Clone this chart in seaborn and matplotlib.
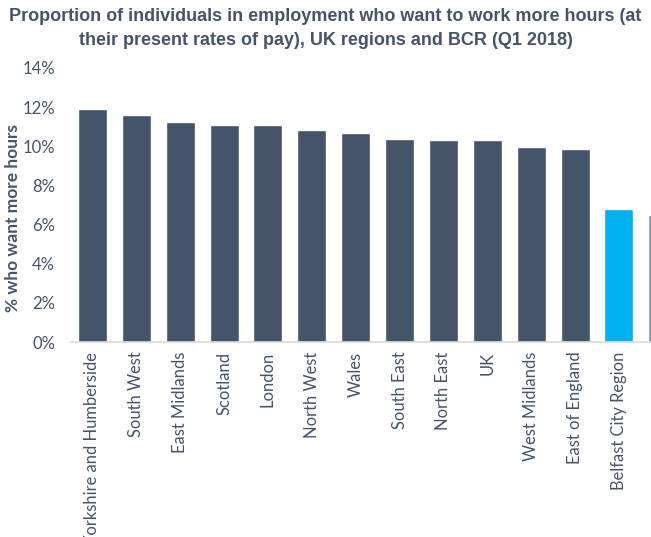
import matplotlib
matplotlib.use("Agg")
import matplotlib.pyplot as plt
import seaborn as sns
from matplotlib.ticker import FuncFormatter

regions = ["Yorkshire and Humberside", "South West", "East Midlands", "Scotland",
           "London", "North West", "Wales", "South East", "North East", "UK",
           "West Midlands", "East of England", "Belfast City Region", "Northern Ireland"]
share_pct = [11.9, 11.6, 11.25, 11.1, 11.1, 10.85, 10.7, 10.35, 10.3, 10.3,
             9.95, 9.88, 6.82, 6.5]
bar_colors = ["#44546A"] * 12 + ["#00B0F0", "#8497B0"]
yticks = [0, 2, 4, 6, 8, 10, 12, 14]

title = ("Proportion of individuals in employment who want to work more hours (at\n"
         "their present rates of pay), UK regions and BCR (Q1 2018)")
ylabel = "% who want more hours"

sns.set_theme(style="white")
plt.rcParams["font.family"] = ["Lato", "DejaVu Sans"]

text_col = "#44546A"
fig = plt.figure(figsize=(6.51, 5.37), dpi=100)
ax = fig.add_axes([0.1083, 0.3631, 1.0 - 0.1083, 0.8734 - 0.3631])

sns.barplot(x=regions, y=share_pct, hue=regions, palette=bar_colors,
            legend=False, width=0.66, saturation=1, ax=ax)

ax.set_xlim(-0.5, 12.73)
ax.set_ylim(0, 14)
ax.set_yticks(yticks)
ax.yaxis.set_major_formatter(FuncFormatter(lambda v, p: f"{v:.0f}%"))
ax.tick_params(axis="y", length=0, pad=11, labelsize=12, labelcolor=text_col)
ax.tick_params(axis="x", length=0, pad=7, labelsize=11.9, labelcolor=text_col,
               labelrotation=90)

for s in ["top", "right", "left"]:
    ax.spines[s].set_visible(False)
ax.spines["bottom"].set_color("#D9D9D9")
ax.spines["bottom"].set_linewidth(1.2)

ax.set_ylabel("")
ax.set_xlabel("")
fig.text(13 / 651, 1 - 218 / 537, ylabel, rotation=90, ha="center", va="center",
         fontsize=12.5, fontweight="bold", color=text_col)

fig.text(0.5, 1 - 8 / 537, title, ha="center", va="top", fontsize=13,
         fontweight="bold", color="#46546A", family="Liberation Sans",
         linespacing=1.55)

fig.savefig("out.png", dpi=100)
